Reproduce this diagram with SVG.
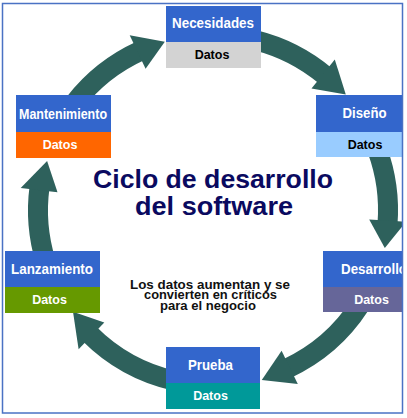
<svg xmlns="http://www.w3.org/2000/svg" width="407" height="418" viewBox="0 0 407 418">
<style>
.lbl{font-family:"Liberation Sans",Arial,sans-serif;font-weight:bold;font-size:14.5px;fill:#ffffff;text-anchor:middle}
.dat{font-family:"Liberation Sans",Arial,sans-serif;font-weight:bold;font-size:12.5px;text-anchor:middle}
.w{fill:#ffffff}
.k{fill:#000000}
.top{fill:#3366cc}
.shaft{fill:none;stroke:#2e615c;stroke-width:20}
.head{fill:#2e615c}
.title{font-family:"Liberation Sans",Arial,sans-serif;font-weight:bold;font-size:26px;fill:#0a0a60;text-anchor:middle}
.sub{font-family:"Liberation Sans",Arial,sans-serif;font-weight:bold;font-size:12.5px;fill:#111111;text-anchor:middle}
</style>
<defs>
<clipPath id="frame"><rect x="3" y="4" width="399" height="408"/></clipPath>
</defs>
<rect x="0" y="0" width="407" height="418" fill="#ffffff"/>
<g clip-path="url(#frame)">
<g id="connectors">
<path class="shaft" d="M255.3,40.2 A175,175 0 0 1 325.5,75.9"/>
<polygon class="head" points="334.8,59.6 345.8,94.5 311.5,88.4"/>
<path class="shaft" d="M377.4,150.1 A175,175 0 0 1 387.5,223.7"/>
<polygon class="head" points="406.1,221.8 384.8,248.1 369.2,219.6"/>
<path class="shaft" d="M359.8,305.3 A175,175 0 0 1 287.0,368.6"/>
<polygon class="head" points="297.8,383.9 261.8,380.1 281.6,350.7"/>
<path class="shaft" d="M173.6,380.5 A175,175 0 0 1 89.3,333.7"/>
<polygon class="head" points="78.6,349.2 73.0,311.7 104.3,322.6"/>
<path class="shaft" d="M45.6,261.2 A175,175 0 0 1 39.5,187.2"/>
<polygon class="head" points="20.7,188.1 47.1,160.9 57.5,192.3"/>
<path class="shaft" d="M75.1,102.3 A175,175 0 0 1 140.4,50.8"/>
<polygon class="head" points="129.7,35.3 164.8,41.8 145.6,68.7"/>
</g>
<g id="necesidades">
<rect class="top" x="166" y="6" width="95" height="36"/>
<rect x="166" y="42" width="95" height="26" fill="#d3d3d3"/>
<text class="lbl" x="213" y="28" textLength="82" lengthAdjust="spacingAndGlyphs">Necesidades</text>
<text class="dat k" x="212" y="59">Datos</text>
</g>
<g id="diseno">
<rect class="top" x="316" y="95" width="90" height="37"/>
<rect x="316" y="132" width="90" height="25" fill="#99ccff"/>
<text class="lbl" x="364.5" y="117.5" textLength="44" lengthAdjust="spacingAndGlyphs">Diseño</text>
<text class="dat k" x="365" y="148.5">Datos</text>
</g>
<g id="desarrollo">
<rect class="top" x="323" y="251" width="85" height="36"/>
<rect x="323" y="287" width="85" height="25" fill="#666699"/>
<text class="lbl" x="341" y="273.5" style="text-anchor:start" textLength="66" lengthAdjust="spacingAndGlyphs">Desarrollo</text>
<text class="dat w" x="371.5" y="303.5">Datos</text>
</g>
<g id="prueba">
<rect class="top" x="166" y="347" width="94" height="36"/>
<rect x="166" y="383" width="94" height="26" fill="#009999"/>
<text class="lbl" x="210.5" y="369.5" textLength="45" lengthAdjust="spacingAndGlyphs">Prueba</text>
<text class="dat w" x="210.5" y="399.5">Datos</text>
</g>
<g id="lanzamiento">
<rect class="top" x="5" y="251" width="95" height="36"/>
<rect x="5" y="287" width="95" height="26" fill="#669900"/>
<text class="lbl" x="52" y="273.5" textLength="82" lengthAdjust="spacingAndGlyphs">Lanzamiento</text>
<text class="dat w" x="49.5" y="303.5">Datos</text>
</g>
<g id="mantenimiento">
<rect class="top" x="16" y="95" width="95" height="37"/>
<rect x="16" y="132" width="95" height="26" fill="#ff6600"/>
<text class="lbl" x="63" y="119" textLength="88" lengthAdjust="spacingAndGlyphs">Mantenimiento</text>
<text class="dat w" x="60" y="148.5">Datos</text>
</g>
<g id="title">
<text class="title" x="213" y="188" textLength="240" lengthAdjust="spacingAndGlyphs">Ciclo de desarrollo</text>
<text class="title" x="214" y="215" textLength="158" lengthAdjust="spacingAndGlyphs">del software</text>
</g>
<g id="note">
<text class="sub" x="210" y="288.5" textLength="160" lengthAdjust="spacingAndGlyphs">Los datos aumentan y se</text>
<text class="sub" x="210.5" y="299.3" textLength="133" lengthAdjust="spacingAndGlyphs">convierten en críticos</text>
<text class="sub" x="208" y="310" textLength="96" lengthAdjust="spacingAndGlyphs">para el negocio</text>
</g>
</g>
<rect x="2.5" y="3.5" width="400" height="409.5" fill="none" stroke="#4a72c4" stroke-width="1.5"/>
</svg>
